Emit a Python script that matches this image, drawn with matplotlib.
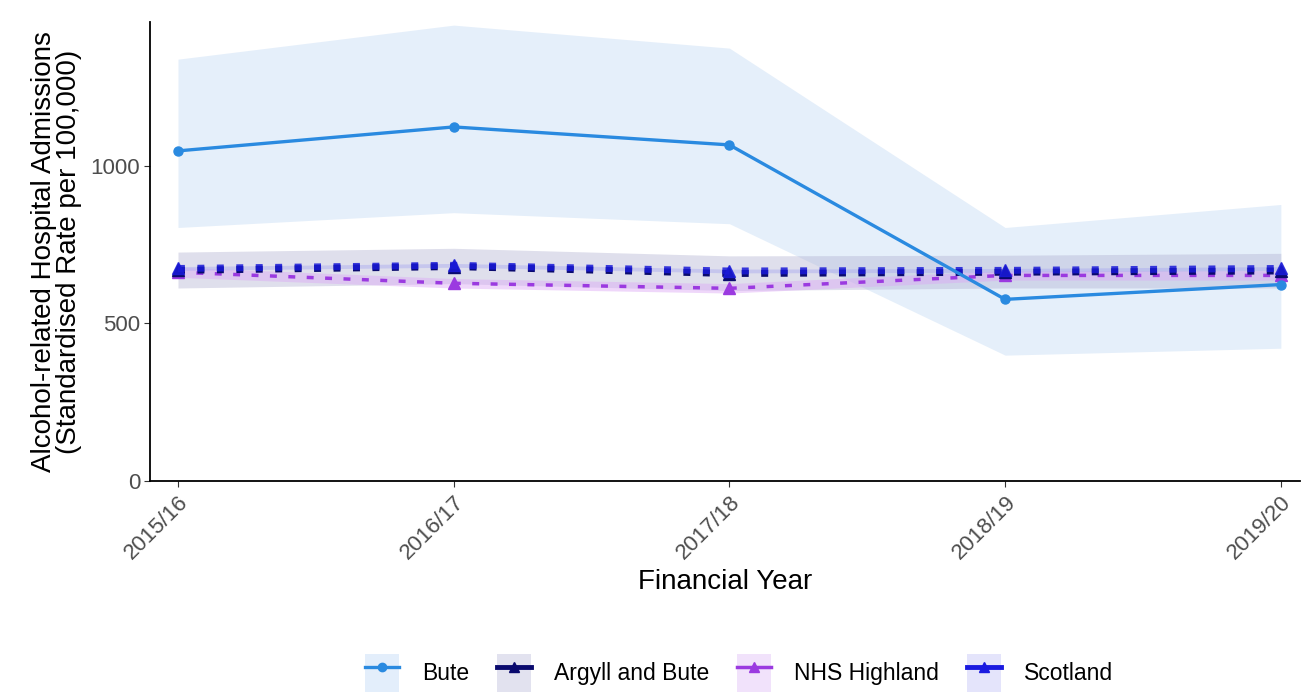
import matplotlib
matplotlib.use("Agg")
import matplotlib.pyplot as plt
from matplotlib.patches import Patch
from matplotlib.lines import Line2D
import numpy as np

plt.rcParams["font.family"] = ["Liberation Sans", "DejaVu Sans"]

years = ["2015/16", "2016/17", "2017/18", "2018/19", "2019/20"]

bute = [1047, 1123, 1066, 576, 623]
bute_lo = [804, 851, 816, 399, 421]
bute_hi = [1338, 1446, 1373, 804, 877]

argyll = [668, 680, 658, 662, 666]
argyll_lo = [612, 626, 604, 612, 612]
argyll_hi = [726, 738, 714, 716, 722]

highland = [662, 627, 611, 652, 652]
highland_lo = [646, 612, 596, 637, 637]
highland_hi = [678, 642, 626, 667, 667]

scotland = [674, 684, 666, 668, 674]
scotland_lo = [668, 678, 660, 662, 668]
scotland_hi = [680, 690, 672, 674, 680]

x = np.arange(len(years))

fig = plt.figure(figsize=(13.08, 6.96), dpi=100)
ax = fig.add_axes([0.115, 0.309, 0.879, 0.659])

# confidence bands
ax.fill_between(x, bute_lo, bute_hi, color="#c6dcf5", alpha=0.45, lw=0)
ax.fill_between(x, argyll_lo, argyll_hi, color="#b0b0d0", alpha=0.4, lw=0)
ax.fill_between(x, highland_lo, highland_hi, color="#dca8f5", alpha=0.45, lw=0)
ax.fill_between(x, scotland_lo, scotland_hi, color="#a8a8f0", alpha=0.45, lw=0)

ax.plot(x, bute, color="#2a8ae0", lw=2.4, marker="o", ms=6.5, zorder=5)
ax.plot(x, highland, color="#9b3ae0", lw=2.5, ls=(0, (2, 3.3)), marker="^", ms=8, zorder=4)
ax.plot(x, argyll, color="#0a0a6e", lw=5, ls=(0, (1, 1.8)), marker="^", ms=8, zorder=4)
ax.plot(x, scotland, color="#1a1ad8", lw=5, ls=(0, (1, 1.8)), marker="^", ms=8, alpha=0.85, zorder=4)

ax.set_xlim(-0.1, 4.07)
ax.set_ylim(0, 1455)
ax.set_yticks([0, 500, 1000])
ax.set_xticks(x)
ax.set_xticklabels(years, rotation=45, ha="right", rotation_mode="anchor")
ax.tick_params(axis="both", colors="#333333", labelcolor="#4d4d4d", labelsize=16, length=4)
ax.tick_params(axis="x", pad=4)

for s in ["top", "right"]:
    ax.spines[s].set_visible(False)
for s in ["left", "bottom"]:
    ax.spines[s].set_linewidth(1.3)

ax.set_xlabel("Financial Year", fontsize=20, labelpad=4)
ax.set_ylabel("Alcohol-related Hospital Admissions\n(Standardised Rate per 100,000)", fontsize=20,
              labelpad=6, linespacing=0.95)

handles = [
    (Patch(facecolor="#e3eefb", lw=0), Line2D([], [], color="#2a8ae0", lw=2.4, marker="o", ms=6)),
    (Patch(facecolor="#e2e2ef", lw=0), Line2D([], [], color="#0a0a6e", lw=3.5, marker="^", ms=7)),
    (Patch(facecolor="#f1e2fb", lw=0), Line2D([], [], color="#9b3ae0", lw=2.5, marker="^", ms=7)),
    (Patch(facecolor="#e4e4fb", lw=0), Line2D([], [], color="#1a1ae0", lw=3.5, marker="^", ms=7)),
]
labels = ["Bute", "Argyll and Bute", "NHS Highland", "Scotland"]
fig.legend(handles, labels, loc="center", bbox_to_anchor=(0.565, 0.033), ncol=4, frameon=False,
           fontsize=16.5, handlelength=1.5, handleheight=2.2, columnspacing=1.2, handletextpad=1.0)

fig.savefig("out.png", dpi=100)
